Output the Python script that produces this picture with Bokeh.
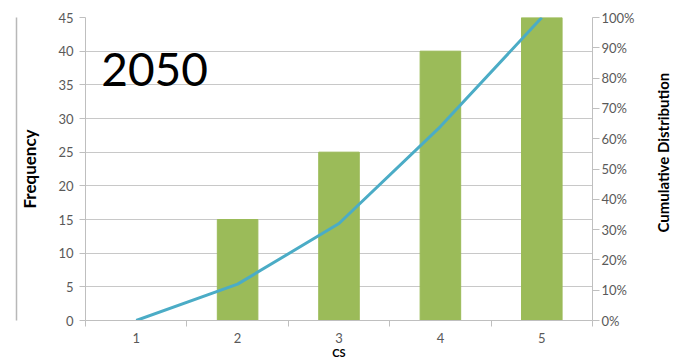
import math
import numpy as np
from bokeh.plotting import figure
from bokeh.layouts import row
from bokeh.core.properties import value
from bokeh.models import Range1d, LinearAxis, FixedTicker, NumeralTickFormatter, Label
from bokeh.embed import file_html
from bokeh.resources import INLINE

# CS classes and their frequencies
cs = [1, 2, 3, 4, 5]
freq = [0, 15, 25, 40, 45]
freq_ticks = [0, 5, 10, 15, 20, 25, 30, 35, 40, 45]
pct_ticks = [0.0, 0.1, 0.2, 0.3, 0.4, 0.5, 0.6, 0.7, 0.8, 0.9, 1.0]

cum = list(np.cumsum(freq) / sum(freq))

FONT = "Lato"
TICK_COLOR = "#595959"
AXIS_COLOR = "#bfbfbf"
H = 361

p = figure(width=652, height=H, output_backend="svg", toolbar_location=None,
           x_range=Range1d(0.5, 5.5), y_range=Range1d(0, 45),
           min_border_left=85, min_border_right=60,
           min_border_top=17, min_border_bottom=41)
p.outline_line_color = None
p.background_fill_color = "white"
p.border_fill_color = "white"

p.vbar(x=cs, top=freq, width=0.4, color="#9BBB59")

p.extra_y_ranges = {"cum": Range1d(0, 1)}
p.line(cs, cum, y_range_name="cum", line_color="#4BACC6", line_width=3)

# x axis: labels at class centres, tick marks on the class boundaries
xa = p.xaxis[0]
bounds = [c - 0.5 for c in cs] + [cs[-1] + 0.5]
xa.ticker = FixedTicker(ticks=cs, minor_ticks=bounds)
xa.major_tick_line_color = None
xa.major_tick_out = 6
xa.minor_tick_in = 0
xa.minor_tick_out = 6
xa.minor_tick_line_color = AXIS_COLOR
xa.axis_line_color = AXIS_COLOR
xa.major_label_standoff = 6
xa.major_label_text_font = FONT
xa.major_label_text_font_size = "13px"
xa.major_label_text_color = TICK_COLOR
xa.axis_label = "CS"
xa.axis_label_text_font = FONT
xa.axis_label_text_font_style = "bold"
xa.axis_label_text_font_size = "11px"
xa.axis_label_text_color = "black"
xa.axis_label_standoff = 0

# left axis: frequency
ya = p.yaxis[0]
ya.ticker = FixedTicker(ticks=freq_ticks)
ya.axis_line_color = AXIS_COLOR
ya.major_tick_line_color = AXIS_COLOR
ya.major_tick_in = 0
ya.major_tick_out = 6
ya.minor_tick_line_color = None
ya.major_label_standoff = 6
ya.major_label_text_font = FONT
ya.major_label_text_font_size = "13px"
ya.major_label_text_color = TICK_COLOR
ya.axis_label = "Frequency"
ya.axis_label_text_font = FONT
ya.axis_label_text_font_style = "bold"
ya.axis_label_text_font_size = "17px"
ya.axis_label_text_color = "black"
ya.axis_label_standoff = 15

# right axis: cumulative share
ra = LinearAxis(y_range_name="cum", ticker=FixedTicker(ticks=pct_ticks),
                formatter=NumeralTickFormatter(format="0%"))
ra.axis_line_color = AXIS_COLOR
ra.major_tick_line_color = AXIS_COLOR
ra.major_tick_in = 0
ra.major_tick_out = 7
ra.minor_tick_line_color = None
ra.major_label_standoff = 2
ra.major_label_text_font = FONT
ra.major_label_text_font_size = "13px"
ra.major_label_text_color = TICK_COLOR
p.add_layout(ra, "right")

# page edge at the far left, drawn as a bare axis rule
edge = LinearAxis(bounds=(-2.53, 48), ticker=FixedTicker(ticks=[]))
edge.axis_line_color = "#b8b8b8"
edge.axis_line_width = 1.5
edge.major_tick_line_color = None
edge.minor_tick_line_color = None
edge.major_tick_out = 0
edge.minor_tick_out = 0
edge.major_label_text_font_size = "0px"
p.add_layout(edge, "left")

p.xgrid.visible = False
p.ygrid.ticker = FixedTicker(ticks=freq_ticks)
p.ygrid.grid_line_color = "#c8c8c8"

# year caption
p.add_layout(Label(x=0.655, y=37.3, text="2050", text_font=FONT, text_font_size="46px",
                   text_align="left", text_baseline="alphabetic", text_color="black"))

# narrow strip holding the right-hand title, reading upwards
side = figure(width=21, height=H, output_backend="svg", toolbar_location=None,
              x_range=Range1d(0, 1), y_range=Range1d(0, 1),
              x_axis_type=None, y_axis_type=None,
              min_border=0, min_border_left=0, min_border_right=0,
              min_border_top=0, min_border_bottom=0)
side.outline_line_color = None
side.xgrid.visible = False
side.ygrid.visible = False
side.border_fill_color = "white"
side.background_fill_color = "white"
side.text(x=[0.5], y=[0.554], text=["Cumulative Distribution"], angle=math.pi / 2,
          text_font=value(FONT), text_font_style="bold", text_font_size="15px",
          text_color="black", text_align="center", text_baseline="middle")

layout = row(p, side, spacing=0)
open("out.html", "w").write(file_html(layout, INLINE))
